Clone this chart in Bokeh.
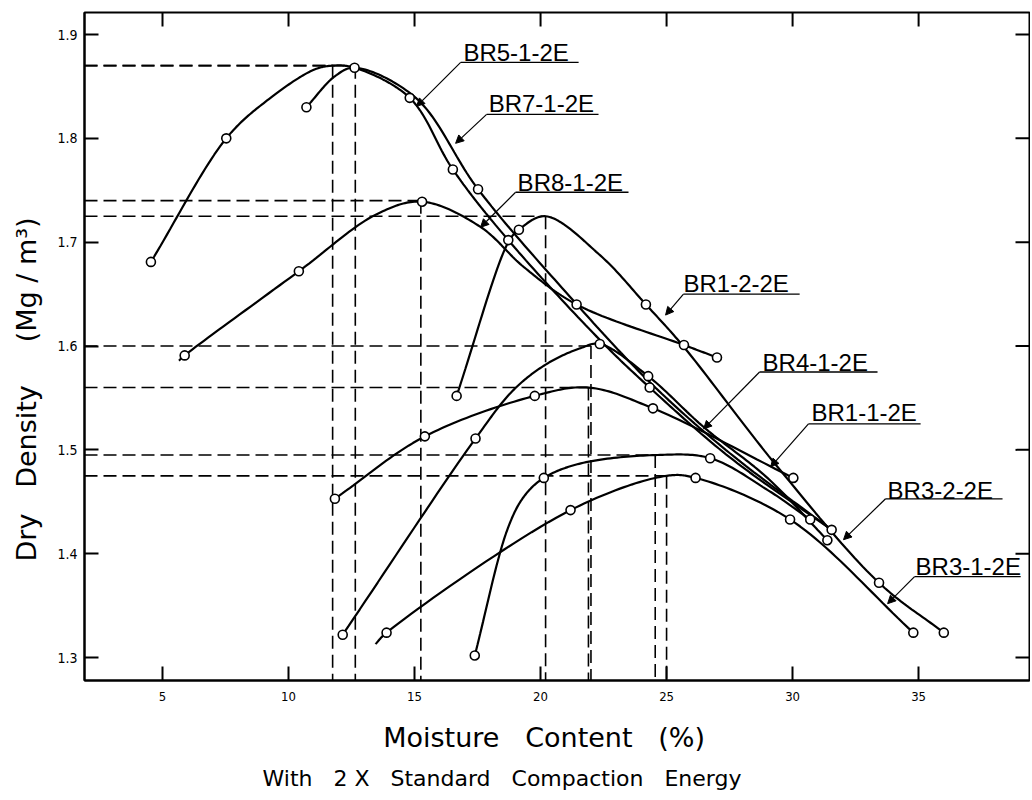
import numpy as np
from bokeh.plotting import figure
from bokeh.models import Range1d, FixedTicker, Arrow, NormalHead, Title
from bokeh.embed import file_html
from bokeh.resources import INLINE
from bokeh.core.properties import value

# ---------------- data ----------------
x_ticks = [5, 10, 15, 20, 25, 30, 35]
y_ticks = [1.3, 1.4, 1.5, 1.6, 1.7, 1.8, 1.9]
x_lim = [1.905, 39.4]
y_lim = [1.2779, 1.9212]

# measured points (markers) and read curve guide points, per sample
br5_x = [4.54, 7.53, 12.62, 14.81, 16.52, 18.72, 24.33, 31.55]
br5_y = [1.681, 1.800, 1.868, 1.839, 1.770, 1.702, 1.560, 1.423]
br5_gx = [9.15, 11.00, 11.75, 22.35, 27.50]
br5_gy = [1.8365, 1.866, 1.870, 1.606, 1.493]

br7_x = [10.71, 17.52]
br7_y = [1.830, 1.751]
br7_gx = [11.85, 12.62, 15.05, 21.00, 24.30, 27.50, 31.55]
br7_gy = [1.860, 1.868, 1.839, 1.652, 1.566, 1.497, 1.423]

br8_x = [5.88, 10.41, 15.30, 21.43, 25.69, 27.00]
br8_y = [1.591, 1.672, 1.739, 1.640, 1.601, 1.589]
br8_gx = [5.65, 13.50, 17.60, 19.34]
br8_gy = [1.586, 1.727, 1.715, 1.676]

br12_x = [16.67, 19.14, 24.18, 33.43, 36.00]
br12_y = [1.552, 1.712, 1.640, 1.372, 1.324]
br12_gx = [18.72, 20.20, 22.38, 25.62, 29.39]
br12_gy = [1.700, 1.725, 1.687, 1.601, 1.484]

br4_x = [12.15, 17.42, 22.35, 24.27, 31.38]
br4_y = [1.322, 1.511, 1.602, 1.571, 1.413]
br4_gx = [18.94, 20.26, 21.59, 26.47, 29.00]
br4_gy = [1.558, 1.583, 1.598, 1.522, 1.473]

br11_x = [11.84, 15.41, 19.77, 24.46, 30.03]
br11_y = [1.453, 1.513, 1.552, 1.540, 1.473]
br11_gx = [21.90]
br11_gy = [1.560]

br32_x = [17.39, 20.13, 26.73, 30.70]
br32_y = [1.302, 1.473, 1.492, 1.433]
br32_gx = [18.68, 19.34, 21.60, 24.55, 29.00]
br32_gy = [1.423, 1.455, 1.487, 1.495, 1.4615]

br31_x = [13.89, 21.19, 26.15, 29.90, 34.79]
br31_y = [1.324, 1.442, 1.473, 1.433, 1.324]
br31_gx = [13.45, 25.00]
br31_gy = [1.313, 1.475]

# optimum moisture content / maximum dry density (dashed construction lines)
omc = [11.75, 12.65, 15.25, 20.20, 22.00, 21.90, 24.55, 25.00]
mdd = [1.870, 1.870, 1.740, 1.725, 1.600, 1.560, 1.495, 1.475]

# curve labels: text, text-left x, text y, underline y, underline x range, arrow tip
lab_text = ["BR5-1-2E", "BR7-1-2E", "BR8-1-2E", "BR1-2-2E",
            "BR4-1-2E", "BR1-1-2E", "BR3-2-2E", "BR3-1-2E"]
lab_x = [16.94, 17.94, 19.09, 25.67, 28.81, 30.75, 33.77, 34.88]
lab_y = [1.8827, 1.8337, 1.7577, 1.6606, 1.5846, 1.5356, 1.4606, 1.3875]
lab_uy = [1.8731, 1.8231, 1.7481, 1.6500, 1.5750, 1.5250, 1.4529, 1.3779]
lab_ux0 = [16.83, 17.86, 19.01, 25.67, 28.69, 30.63, 33.69, 34.84]
lab_ux1 = [21.51, 22.30, 23.49, 30.28, 33.37, 35.08, 38.33, 39.05]
tip_x = [15.08, 16.63, 17.62, 24.96, 26.47, 29.13, 32.02, 33.77]
tip_y = [1.8308, 1.7952, 1.7144, 1.6298, 1.5202, 1.4837, 1.4135, 1.3519]

YS = 1040.0 / 25.2  # aspect used for the curve smoothing
TICK_X = 14 / 25.2   # inward tick length (data units)
TICK_Y = 14 / 1040.0


def smooth(xs, ys, n=24):
    order = np.argsort(xs)
    P = np.column_stack([np.asarray(xs, float)[order], np.asarray(ys, float)[order] * YS])
    P = np.vstack([2 * P[0] - P[1], P, 2 * P[-1] - P[-2]])
    out = []
    for i in range(1, len(P) - 2):
        p0, p1, p2, p3 = P[i - 1], P[i], P[i + 1], P[i + 2]
        t0 = 0.0
        t1 = t0 + max(np.linalg.norm(p1 - p0), 1e-6) ** 0.5
        t2 = t1 + max(np.linalg.norm(p2 - p1), 1e-6) ** 0.5
        t3 = t2 + max(np.linalg.norm(p3 - p2), 1e-6) ** 0.5
        for t in np.linspace(t1, t2, n, endpoint=False):
            a1 = (t1 - t) / (t1 - t0) * p0 + (t - t0) / (t1 - t0) * p1
            a2 = (t2 - t) / (t2 - t1) * p1 + (t - t1) / (t2 - t1) * p2
            a3 = (t3 - t) / (t3 - t2) * p2 + (t - t2) / (t3 - t2) * p3
            b1 = (t2 - t) / (t2 - t0) * a1 + (t - t0) / (t2 - t0) * a2
            b2 = (t3 - t) / (t3 - t1) * a2 + (t - t1) / (t3 - t1) * a3
            c = (t2 - t) / (t2 - t1) * b1 + (t - t1) / (t2 - t1) * b2
            out.append(c)
    out.append(P[-2])
    out = np.array(out)
    return out[:, 0], out[:, 1] / YS


NB = "\u00a0"
p = figure(width=1030, height=798, output_backend="svg", toolbar_location=None,
           x_range=Range1d(*x_lim), y_range=Range1d(*y_lim),
           min_border_left=84, min_border_right=1, min_border_top=12, min_border_bottom=117)
p.background_fill_color = "white"
p.border_fill_color = "white"
p.xgrid.grid_line_color = None
p.ygrid.grid_line_color = None
p.outline_line_color = "black"
p.outline_line_width = 2

for ax in (p.xaxis[0], p.yaxis[0]):
    ax.major_tick_in = 14
    ax.major_tick_out = 0
    ax.minor_tick_in = 0
    ax.minor_tick_out = 0
    ax.axis_line_width = 2
    ax.major_tick_line_width = 2
    ax.major_label_text_font = "DejaVu Sans Condensed"
    ax.major_label_text_color = "black"
    ax.axis_label_text_color = "black"
    ax.axis_label_text_font_style = "normal"
p.xaxis.ticker = FixedTicker(ticks=x_ticks)
p.yaxis.ticker = FixedTicker(ticks=y_ticks)
p.xaxis.major_label_text_font_size = "13px"
p.yaxis.major_label_text_font_size = "14px"
p.xaxis.major_label_standoff = 11
p.yaxis.major_label_standoff = 7

p.yaxis.axis_label = ("Dry" + NB * 3 + "Density" + NB * 5 + "(Mg" + NB + "/" + NB + "m\u00b3)" + NB * 10)
p.yaxis.axis_label_text_font = "DejaVu Sans"
p.yaxis.axis_label_text_font_size = "27px"
p.yaxis.axis_label_standoff = 12

p.xaxis.axis_label = "Moisture" + NB * 3 + "Content" + NB * 3 + "(%)" + NB * 3
p.xaxis.axis_label_text_font = "DejaVu Sans"
p.xaxis.axis_label_text_font_size = "27px"
p.xaxis.axis_label_standoff = 18

p.add_layout(Title(text="With" + NB * 3 + "2" + NB + "X" + NB * 3 + "Standard" + NB * 3 +
                   "Compaction" + NB * 3 + "Energy",
                   align="left", offset=178, text_font="DejaVu Sans",
                   text_font_size="22px", text_font_style="normal", text_color="black",
                   standoff=16), "below")

# inward ticks on the top and right frame edges
p.segment(x0=x_ticks, y0=[y_lim[1]] * len(x_ticks), x1=x_ticks,
          y1=[y_lim[1] - TICK_Y] * len(x_ticks), line_color="black", line_width=2)
p.segment(x0=[x_lim[1]] * len(y_ticks), y0=y_ticks, x1=[x_lim[1] - TICK_X] * len(y_ticks),
          y1=y_ticks, line_color="black", line_width=2)

# dashed construction lines
p.segment(x0=[x_lim[0]] * len(omc), y0=mdd, x1=omc, y1=mdd,
          line_color="black", line_width=1.6, line_dash="13 6")
p.segment(x0=omc, y0=mdd, x1=omc, y1=[y_lim[0]] * len(omc),
          line_color="black", line_width=1.6, line_dash="13 6")

curves = [(br5_x, br5_y, br5_gx, br5_gy), (br7_x, br7_y, br7_gx, br7_gy),
          (br8_x, br8_y, br8_gx, br8_gy), (br12_x, br12_y, br12_gx, br12_gy),
          (br4_x, br4_y, br4_gx, br4_gy), (br11_x, br11_y, br11_gx, br11_gy),
          (br32_x, br32_y, br32_gx, br32_gy), (br31_x, br31_y, br31_gx, br31_gy)]
for mx, my, gx, gy in curves:
    sx, sy = smooth(list(mx) + list(gx), list(my) + list(gy))
    p.line(sx, sy, line_color="black", line_width=2.2)
for mx, my, gx, gy in curves:
    p.scatter(mx, my, marker="circle", size=9, fill_color="white",
              line_color="black", line_width=1.6)

# curve labels with underline and leader arrow
p.text(x=lab_x, y=lab_y, text=lab_text, text_font=value("Liberation Sans"),
       text_font_size="24px", text_baseline="middle", text_align="left", text_color="black")
p.segment(x0=lab_ux0, y0=lab_uy, x1=lab_ux1, y1=lab_uy, line_color="black", line_width=1.3)
for i in range(len(lab_text)):
    p.add_layout(Arrow(x_start=lab_ux0[i], y_start=lab_uy[i], x_end=tip_x[i], y_end=tip_y[i],
                       line_width=1.2, line_color="black",
                       end=NormalHead(size=8, fill_color="black", line_color="black", line_width=1)))

open("out.html", "w").write(file_html(p, INLINE))
